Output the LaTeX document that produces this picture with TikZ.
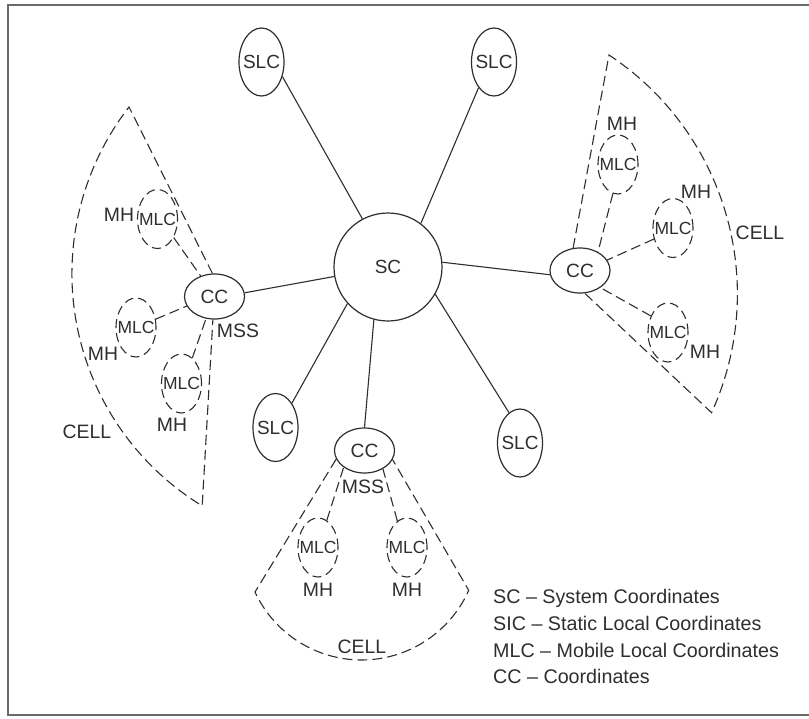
\documentclass[tikz,border=0pt]{standalone}
\usepackage{fontspec}
\setmainfont{Liberation Sans}
\usetikzlibrary{shapes.geometric}
\definecolor{ink}{HTML}{2E2E2E}
\definecolor{framegray}{HTML}{6A6A6A}
\begin{document}
\begin{tikzpicture}[x=1pt,y=-1pt,
  every node/.style={text=ink},
  lbl/.style={inner sep=0pt, font=\fontsize{19.4}{22}\selectfont},
  keytext/.style={inner sep=0pt, anchor=base west, font=\fontsize{19.7}{22}\selectfont},
  hub/.style={circle, draw=ink, line width=1.2pt, minimum size=108pt, inner sep=0pt,
    font=\fontsize{19}{22}\selectfont},
  slcnode/.style={ellipse, draw=ink, line width=1.2pt, minimum width=45pt, minimum height=68pt,
    inner sep=0pt, font=\fontsize{19}{22}\selectfont},
  ccnode/.style={ellipse, draw=ink, line width=1.2pt, minimum width=60pt, minimum height=45pt,
    inner sep=0pt, font=\fontsize{19.2}{22}\selectfont},
  mlcnode/.style={ellipse, draw=ink, line width=1.1pt, dash pattern=on 9pt off 5pt,
    minimum width=40pt, minimum height=59pt, inner sep=0pt, font=\fontsize{17.5}{20}\selectfont},
  link/.style={draw=ink, line width=1.1pt},
  dlink/.style={link, dash pattern=on 10pt off 5pt},
]
\useasboundingbox (0,0) rectangle (809,718);

% outer frame
\draw[framegray, line width=1.8pt] (809,5) -- (8,5) -- (8,715) -- (809,715);

% system coordinator and static local coordinators
\node[hub] (sc) at (388,267) {SC};
\node[slcnode] (slcA) at (261.5,62) {\makebox[0pt]{SLC}};
\node[slcnode] (slcB) at (494,62) {\makebox[0pt]{SLC}};
\node[slcnode] (slcC) at (275.5,427.5) {\makebox[0pt]{SLC}};
\node[slcnode] (slcD) at (520,443) {\makebox[0pt]{SLC}};

% cell coordinators
\node[ccnode] (ccL) at (214.5,296.5) {CC};
\node[ccnode] (ccR) at (580,270.5) {CC};
\node[ccnode] (ccB) at (364.5,450.5) {CC};

% solid links to the system coordinator
\draw[link] (slcA.-35) -- (sc.118);
\draw[link] (slcB.-121.6) -- (sc.53);
\draw[link] (ccL.7) -- (sc.190.5);
\draw[link] (sc.5) -- (ccR.188.5);
\draw[link] (sc.255) -- (ccB.90);
\draw[link] (slcC.56) -- (sc.222);
\draw[link] (slcD.110) -- (sc.-30);

% mobile local coordinators
\node[mlcnode] (lm1) at (157.5,219) {\makebox[0pt]{MLC}};
\node[mlcnode] (lm2) at (136,327.5) {\makebox[0pt]{MLC}};
\node[mlcnode] (lm3) at (181.5,383.5) {\makebox[0pt]{MLC}};
\node[mlcnode] (rm1) at (618,164.5) {\makebox[0pt]{MLC}};
\node[mlcnode] (rm2) at (673,228) {\makebox[0pt]{MLC}};
\node[mlcnode] (rm3) at (668,332.5) {\makebox[0pt]{MLC}};
\node[mlcnode] (bm1) at (318,547.5) {\makebox[0pt]{MLC}};
\node[mlcnode] (bm2) at (407,547.5) {\makebox[0pt]{MLC}};

% dashed wireless links
\draw[dlink] (lm1.-49) -- (ccL.124);
\draw[dlink] (lm2.23) -- (ccL.199);
\draw[dlink] (lm3.67) -- (ccL.249);
\draw[dlink] (rm1.260) -- (ccR.46);
\draw[dlink] (rm2.210) -- (ccR.21);
\draw[dlink] (rm3.136) -- (ccR.-40);
\draw[dlink] (bm1.72) -- (ccB.219);
\draw[dlink] (bm2.110) -- (ccB.-45);

% cell outlines
\coordinate (lapex) at (129,107);
\draw[dlink] (ccL.95) -- (lapex) arc[start angle=217.8, end angle=121.4, radius=272] -- (ccL.266);
\coordinate (rapex) at (609,55);
\draw[dlink] (ccR.107) -- (rapex) arc[start angle=-56.5, end angle=24.5, radius=286.5] -- (ccR.-78.5);
\coordinate (bleft) at (255,592);
\draw[dlink] (ccB.197) -- (bleft) arc[start angle=155.1, end angle=24, radius=117.4] -- (ccB.-18.4);

% labels
\node[lbl] (mhL1) at (119,215) {MH};
\node[lbl] (mhL2) at (103,354) {MH};
\node[lbl] (mhL3) at (172,425) {MH};
\node[lbl] (mssL) at (238,331) {MSS};
\node[lbl] (cellL) at (87,432) {CELL};
\node[lbl] (mhR1) at (622,124) {MH};
\node[lbl] (mhR2) at (696,191.5) {MH};
\node[lbl] (mhR3) at (705,352) {MH};
\node[lbl] (cellR) at (760,232.5) {CELL};
\node[lbl] (mhB1) at (318,590) {MH};
\node[lbl] (mhB2) at (407,590) {MH};
\node[lbl] (mssB) at (363,487) {MSS};
\node[lbl] (cellB) at (362,646.5) {CELL};

% key
\node[keytext] (key1) at (493,603) {SC – System Coordinates};
\node[keytext] (key2) at (493,630) {SIC – Static Local Coordinates};
\node[keytext] (key3) at (493,657) {MLC – Mobile Local Coordinates};
\node[keytext] (key4) at (493,683) {CC – Coordinates};
\end{tikzpicture}
\end{document}
